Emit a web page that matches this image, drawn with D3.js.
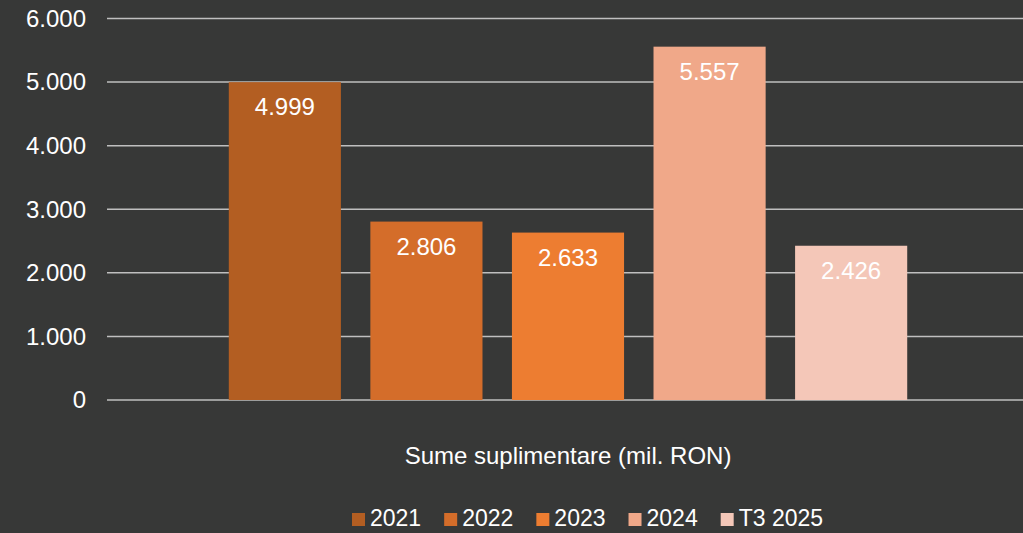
<!DOCTYPE html>
<html>
<head>
<meta charset="utf-8">
<script src="https://cdn.jsdelivr.net/npm/d3@7"></script>
<style>
  html, body { margin: 0; padding: 0; background: #373837; }
  svg { display: block; font-family: "Liberation Sans", Arial, sans-serif; }
</style>
</head>
<body>
<div id="chart"></div>
<script>
// series and values (mil. RON)
const series = ["2021", "2022", "2023", "2024", "T3 2025"];
const values = [4999, 2806, 2633, 5557, 2426];
const colors = ["#B35E22", "#D46D2A", "#ED7D31", "#F0A889", "#F4C7B8"];
const yTicks = [0, 1000, 2000, 3000, 4000, 5000, 6000];
const category = "Sume suplimentare (mil. RON)";

const width = 1023, height = 533;
const margin = { top: 18, right: 0, bottom: 133, left: 107 };

const svg = d3.select("#chart").append("svg")
  .attr("width", width)
  .attr("height", height);

svg.append("rect").attr("width", width).attr("height", height).attr("fill", "#373837");

const y = d3.scaleLinear().domain([0, 6000]).range([height - margin.bottom, margin.top + 0.5]);

const fmt = d => d3.format(",")(d).replace(/,/g, ".");

// gridlines
svg.append("g").selectAll("line")
  .data(yTicks)
  .enter().append("line")
  .attr("x1", margin.left).attr("x2", width - margin.right)
  .attr("y1", d => y(d)).attr("y2", d => y(d))
  .attr("stroke", "#BFBFBF").attr("stroke-width", 1.5);

// y labels
svg.append("g").selectAll("text")
  .data(yTicks)
  .enter().append("text")
  .attr("x", 86).attr("y", d => y(d))
  .attr("dy", "0.35em")
  .attr("text-anchor", "end")
  .attr("fill", "#FFFFFF").attr("font-size", 24)
  .text(d => fmt(d));

// bars in one category group
const x0 = d3.scaleBand().domain([category])
  .range([margin.left + 3, width + 3]).paddingOuter(0.147).paddingInner(0);
const x1 = d3.scaleBand().domain(series)
  .range([0, x0.bandwidth()]).paddingInner(0.208).paddingOuter(0.104);

const g = svg.append("g").attr("transform", `translate(${x0(category)},0)`);

g.selectAll("rect")
  .data(values)
  .enter().append("rect")
  .attr("x", (d, i) => x1(series[i]))
  .attr("width", x1.bandwidth())
  .attr("y", d => y(d))
  .attr("height", d => y(0) - y(d))
  .attr("fill", (d, i) => colors[i]);

g.selectAll("text.val")
  .data(values)
  .enter().append("text")
  .attr("class", "val")
  .attr("x", (d, i) => x1(series[i]) + x1.bandwidth() / 2)
  .attr("y", d => y(d) + 33)
  .attr("text-anchor", "middle")
  .attr("fill", "#FFFFFF").attr("font-size", 24)
  .text(d => fmt(d));

// category label
svg.append("text")
  .attr("x", x0(category) + x0.bandwidth() / 2)
  .attr("y", 464)
  .attr("text-anchor", "middle")
  .attr("fill", "#FFFFFF").attr("font-size", 24)
  .text(category);

// legend
const legend = svg.append("g").attr("transform", "translate(352,526)");
let lx = 0;
series.forEach((s, i) => {
  const item = legend.append("g").attr("transform", `translate(${lx},0)`);
  item.append("rect").attr("x", 0).attr("y", -13).attr("width", 13).attr("height", 13).attr("fill", colors[i]);
  const t = item.append("text").attr("x", 18).attr("y", 0)
    .attr("fill", "#FFFFFF").attr("font-size", 23).text(s);
  lx += 18 + t.node().getComputedTextLength() + 23;
});
</script>
</body>
</html>
